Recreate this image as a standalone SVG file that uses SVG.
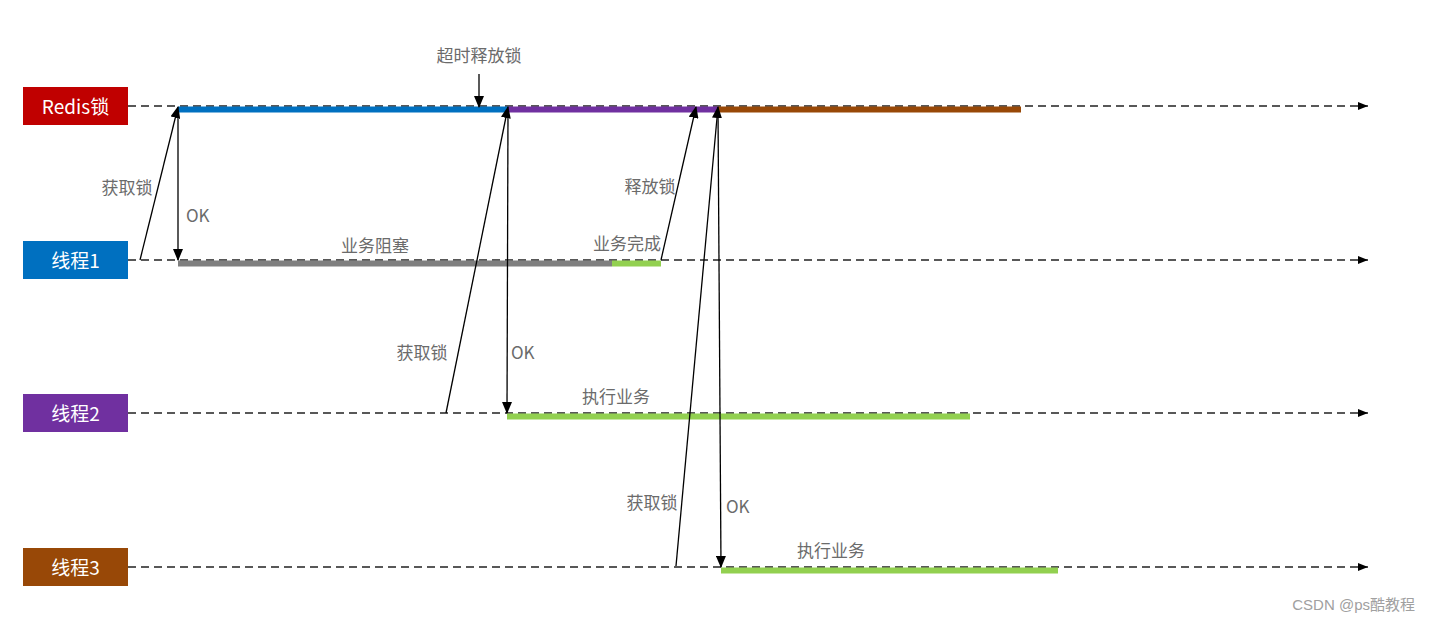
<svg xmlns="http://www.w3.org/2000/svg" width="1430" height="622" viewBox="0 0 1430 622">
<defs>
<marker id="ah" markerUnits="userSpaceOnUse" markerWidth="12" markerHeight="10" viewBox="0 0 12 10" refX="11" refY="5" orient="auto">
<path d="M0,0 L12,5 L0,10 Z" fill="#000"/>
</marker>
<marker id="ahs" markerUnits="userSpaceOnUse" markerWidth="10" markerHeight="8" viewBox="0 0 10 8" refX="10" refY="4" orient="auto">
<path d="M0,0 L10,4 L0,8 Z" fill="#000"/>
</marker>
</defs>
<style>
.box{stroke:none}
.bt{font-family:"Noto Sans CJK SC","Noto Sans",sans-serif;font-size:19px;fill:#fff;text-anchor:middle;dominant-baseline:central}
.lbl{font-family:"Noto Sans CJK SC","Noto Sans",sans-serif;font-size:17px;fill:#6b6b6b}
.mid{text-anchor:middle}
.dash{stroke:#222;stroke-width:1.5;stroke-dasharray:8 5;fill:none}
.bar{stroke-width:6;fill:none}
.arr{stroke:#000;stroke-width:1.3;fill:none}
</style>
<rect width="1430" height="622" fill="#fff"/>
<g id="node-redis">
<rect class="box" x="23" y="87" width="105" height="38" fill="#C00000"/>
<text class="bt" x="75.5" y="105">Redis锁</text>
</g>
<g id="node-t1">
<rect class="box" x="23" y="241" width="105" height="38" fill="#0070C0"/>
<text class="bt" x="75.5" y="259">线程1</text>
</g>
<g id="node-t2">
<rect class="box" x="23" y="394" width="105" height="38" fill="#7030A0"/>
<text class="bt" x="75.5" y="412">线程2</text>
</g>
<g id="node-t3">
<rect class="box" x="23" y="548" width="105" height="38" fill="#984807"/>
<text class="bt" x="75.5" y="566">线程3</text>
</g>
<g id="connectors">
<line class="dash" x1="128" y1="106" x2="1368" y2="106" marker-end="url(#ahs)"/>
<line class="dash" x1="128" y1="260" x2="1368" y2="260" marker-end="url(#ahs)"/>
<line class="dash" x1="128" y1="413" x2="1368" y2="413" marker-end="url(#ahs)"/>
<line class="dash" x1="128" y1="567" x2="1368" y2="567" marker-end="url(#ahs)"/>
<line class="bar" x1="178" y1="109.5" x2="508" y2="109.5" stroke="#0070C0"/>
<line class="bar" x1="508" y1="109.5" x2="718" y2="109.5" stroke="#7030A0"/>
<line class="bar" x1="718" y1="109.5" x2="1021" y2="109.5" stroke="#984807"/>
<line class="bar" x1="178" y1="263.5" x2="612" y2="263.5" stroke="#7F7F7F"/>
<line class="bar" x1="612" y1="263.5" x2="661" y2="263.5" stroke="#92D050"/>
<line class="bar" x1="507" y1="416.5" x2="970" y2="416.5" stroke="#92D050"/>
<line class="bar" x1="721" y1="570.5" x2="1058" y2="570.5" stroke="#92D050"/>
<line class="arr" x1="140" y1="260" x2="178" y2="107" marker-end="url(#ah)"/>
<line class="arr" x1="178" y1="110" x2="178" y2="260" marker-end="url(#ah)"/>
<line class="arr" x1="479" y1="74" x2="479" y2="107" marker-end="url(#ah)"/>
<line class="arr" x1="446" y1="413" x2="508" y2="107" marker-end="url(#ah)"/>
<line class="arr" x1="508" y1="110" x2="507" y2="413" marker-end="url(#ah)"/>
<line class="arr" x1="661" y1="260" x2="696" y2="107" marker-end="url(#ah)"/>
<line class="arr" x1="676" y1="566" x2="718" y2="107" marker-end="url(#ah)"/>
<line class="arr" x1="718" y1="110" x2="721" y2="567" marker-end="url(#ah)"/>
</g>
<g id="labels">
<text class="lbl mid" x="479" y="62">超时释放锁</text>
<text class="lbl mid" x="127" y="194">获取锁</text>
<text class="lbl" x="186" y="222">OK</text>
<text class="lbl mid" x="375" y="252">业务阻塞</text>
<text class="lbl mid" x="627" y="250">业务完成</text>
<text class="lbl mid" x="650" y="193">释放锁</text>
<text class="lbl mid" x="422" y="359">获取锁</text>
<text class="lbl" x="511" y="359">OK</text>
<text class="lbl mid" x="616" y="403">执行业务</text>
<text class="lbl mid" x="652" y="509">获取锁</text>
<text class="lbl" x="726" y="513">OK</text>
<text class="lbl mid" x="831" y="557">执行业务</text>
<text x="1415" y="610" font-family="'Liberation Sans','Noto Sans CJK SC',sans-serif" font-size="15" fill="#a0a0a0" text-anchor="end">CSDN @ps酷教程</text>
</g>
</svg>
